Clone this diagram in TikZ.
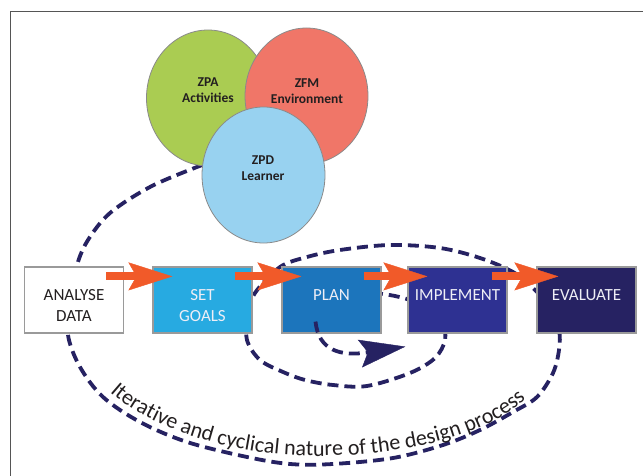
\documentclass[tikz,border=0pt]{standalone}
\usepackage{fontspec}
\setmainfont{Carlito}
\usetikzlibrary{shapes.geometric,arrows.meta,decorations.text,calc}
\definecolor{navy}{HTML}{262262}
\definecolor{flowor}{HTML}{F15A29}
\definecolor{sgcol}{HTML}{27AAE1}
\definecolor{plcol}{HTML}{1C75BC}
\definecolor{imcol}{HTML}{2E3192}
\definecolor{evcol}{HTML}{262262}
\definecolor{grcol}{HTML}{AACC52}
\definecolor{rdcol}{HTML}{F07668}
\definecolor{blcol}{HTML}{98D2F0}
\definecolor{boxline}{HTML}{9A9A9A}
\definecolor{circline}{HTML}{8A8A8A}
\definecolor{framecol}{HTML}{555555}
\definecolor{darktext}{HTML}{231F20}
\definecolor{boxwhite}{HTML}{EEEEF6}
\begin{document}
\begin{tikzpicture}[x=1pt,y=-1pt,
  boxst/.style={draw=boxline, line width=1.2pt, minimum width=99pt, minimum height=66pt, inner sep=0pt},
  boxtxt/.style={font=\fontsize{17}{21}\selectfont, align=center, inner sep=0pt, text=boxwhite},
  circst/.style={ellipse, draw=circline, line width=0.8pt, minimum width=123pt, minimum height=136pt, inner sep=0pt},
  circtxt/.style={font=\bfseries\fontsize{13.5}{16}\selectfont, align=center, text=darktext, inner sep=0pt},
  loopst/.style={draw=navy, line width=3.8pt, dash pattern=on 11pt off 6pt},
  flow/.style={draw=flowor, line width=8pt, -{Stealth[length=44pt,width=28pt,inset=8pt,line width=0.4pt]}}]
\useasboundingbox (0,0) rectangle (643,476);
\fill[white] (0,0) rectangle (643,476);
\draw[framecol, line width=1pt] (10.5,476) -- (10.5,11.5) -- (643,11.5);

% spiral dashed loop (behind boxes and circles)
\draw[loopst] plot[smooth, tension=0.55] coordinates {(355,291) (395,296) (425,306) (442,322) (445,340) (435,358) (410,373) (367,386) (333,385) (305,380) (283,372) (260,360) (247,340) (248,315) (255,293) (280,267) (307,257) (340,250) (390,245) (440,248) (480,258) (513,272) (533,288) (550,308) (559,330) (559,350) (553,373) (537,397) (513,412) (480,430) (443,445) (393,458) (333,464) (290,464) (247,457) (187,442) (140,422) (103,397) (80,367) (68,335) (70,300) (77,265) (88,240) (110,213) (150,187) (197,167) (225,157)};

% boxes
\node[boxst, fill=white] (ad) at (74,300) {};
\node[boxst, fill=sgcol] (sg) at (202.5,300) {};
\node[boxst, fill=plcol] (pl) at (331.5,300) {};
\node[boxst, fill=imcol] (im) at (457.5,300) {};
\node[boxst, fill=evcol] (ev) at (586.5,300) {};

% inner arrow
\draw[loopst, -{Stealth[length=46pt,width=28pt,inset=8pt,line width=0.4pt]}] ($(pl.south)+(-16,-12)$) .. controls ($(pl.south)+(-13,17)$) and ($(pl.south)+(9,23)$) .. ($(im.south west)+(-2,13)$);

\node[boxtxt, text=darktext] (adt) at (74,305.5) {ANALYSE\\DATA};
\node[boxtxt] (sgt) at (202.5,305.5) {SET\\GOALS};
\node[boxtxt] (plt) at (331.5,295) {PLAN};
\node[boxtxt] (imt) at (457.5,295) {IMPLEMENT};
\node[boxtxt] (evt) at (586.5,295) {EVALUATE};

% circles
\node[circst, fill=grcol] (zpa) at (208,98) {};
\node[circst, fill=rdcol] (zfm) at (306.5,96) {};
\node[circst, fill=blcol] (zpd) at (263.5,175) {};
\node[circtxt] (zpat) at (208,90) {ZPA\\Activities};
\node[circtxt] (zfmt) at (307,91) {ZFM\\Environment};
\node[circtxt] (zpdt) at (263,168) {ZPD\\Learner};

% orange flow arrows
\draw[flow] ($(ad.north east)+(-18,10)$) -- ($(sg.north west)+(20,10)$);
\draw[flow] ($(sg.north east)+(-18,10)$) -- ($(pl.north west)+(20,10)$);
\draw[flow] ($(pl.north east)+(-18,10)$) -- ($(im.north west)+(20,10)$);
\draw[flow] ($(im.north east)+(-16,10)$) -- ($(ev.north west)+(22,10)$);

% curved caption
\path[decorate, decoration={text along path, text={|\fontsize{22}{26}\selectfont\color{darktext}|Iterative and cyclical nature of the design process}, text align=fit to path}] (110,392) .. controls (150,428) and (230,455) .. (310,456) .. controls (390,457) and (480,440) .. (525,400);
\end{tikzpicture}
\end{document}
